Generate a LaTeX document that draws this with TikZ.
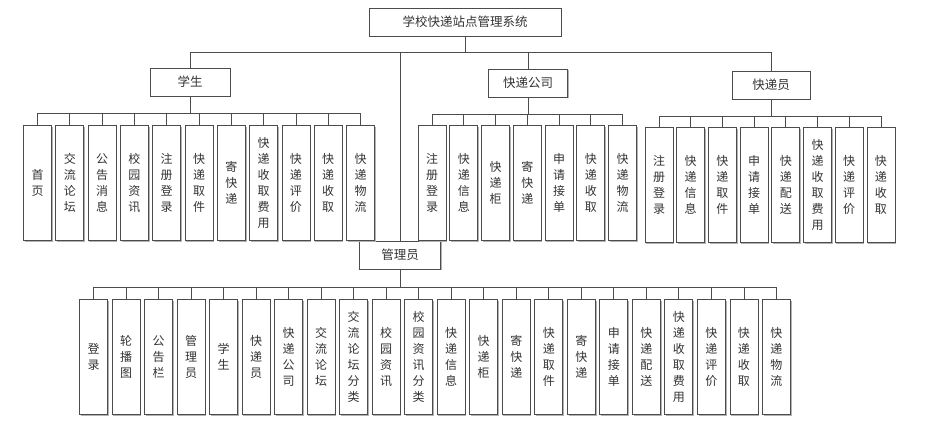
\documentclass[tikz,border=0pt]{standalone}
\usepackage{fontspec}
\newfontfamily\cjk{Noto Sans CJK SC}
\usetikzlibrary{shadows}

\begin{document}
\begin{tikzpicture}[x=1pt, y=-1pt, line width=0.8pt,
  conn/.style={draw=black!70},
  box/.style={draw=black!70, fill=white, inner sep=0pt, text=black!80,
    drop shadow={shadow xshift=1.2pt, shadow yshift=-1.2pt, fill=black!30, opacity=1}},
  head/.style={box, minimum height=28pt, font=\cjk\fontsize{12.5}{14}\selectfont},
  leaf/.style={box, anchor=north, minimum width=28pt, minimum height=115pt,
    align=center, font=\cjk\fontsize{12}{16}\selectfont}]
 \useasboundingbox (0,0) rectangle (935,431);

 \node[head, minimum width=192pt] (root) at (465,22) {学校快递站点管理系统};
 \node[head, minimum width=80pt] (stu) at (190,82) {学生};
 \node[head, minimum width=79pt] (com) at (528,83) {快递公司};
 \node[head, minimum width=78pt] (cou) at (771,85) {快递员};
 \node[head, minimum width=81pt] (adm) at (400,255) {管理员};
 \foreach \p in {stu,com,cou,adm}
  \draw[conn] (root.south) -- ++(0,16) -| (\p.north);

 \foreach \t [count=\i] in {首\\页, 交\\流\\论\\坛, 公\\告\\消\\息, 校\\园\\资\\讯,
   注\\册\\登\\录, 快\\递\\取\\件, 寄\\快\\递, 快\\递\\收\\取\\费\\用,
   快\\递\\评\\价, 快\\递\\收\\取, 快\\递\\物\\流} {
  \node[leaf] (s\i) at ({37.5+32.3*(\i-1)},125) {\t};
  \draw[conn] (stu.south) -- ++(0,17) -| (s\i.north);
 }

 \foreach \t [count=\i] in {注\\册\\登\\录, 快\\递\\信\\息, 快\\递\\柜, 寄\\快\\递,
   申\\请\\接\\单, 快\\递\\收\\取, 快\\递\\物\\流} {
  \node[leaf] (c\i) at ({432+31.75*(\i-1)},125) {\t};
  \draw[conn] (com.south) -- ++(0,17) -| (c\i.north);
 }

 \foreach \t [count=\i] in {注\\册\\登\\录, 快\\递\\信\\息, 快\\递\\取\\件, 申\\请\\接\\单,
   快\\递\\配\\送, 快\\递\\收\\取\\费\\用, 快\\递\\评\\价, 快\\递\\收\\取} {
  \node[leaf] (k\i) at ({659+31.7*(\i-1)},127) {\t};
  \draw[conn] (cou.south) -- ++(0,17) -| (k\i.north);
 }

 \foreach \t [count=\i] in {登\\录, 轮\\播\\图, 公\\告\\栏, 管\\理\\员, 学\\生, 快\\递\\员,
   快\\递\\公\\司, 交\\流\\论\\坛, 交\\流\\论\\坛\\分\\类, 校\\园\\资\\讯,
   校\\园\\资\\讯\\分\\类, 快\\递\\信\\息, 快\\递\\柜, 寄\\快\\递, 快\\递\\取\\件,
   寄\\快\\递, 申\\请\\接\\单, 快\\递\\配\\送, 快\\递\\收\\取\\费\\用, 快\\递\\评\\价,
   快\\递\\收\\取, 快\\递\\物\\流} {
  \node[leaf] (a\i) at ({93.5+32.52*(\i-1)},299) {\t};
  \draw[conn] (adm.south) -- ++(0,18) -| (a\i.north);
 }
\end{tikzpicture}
\end{document}
